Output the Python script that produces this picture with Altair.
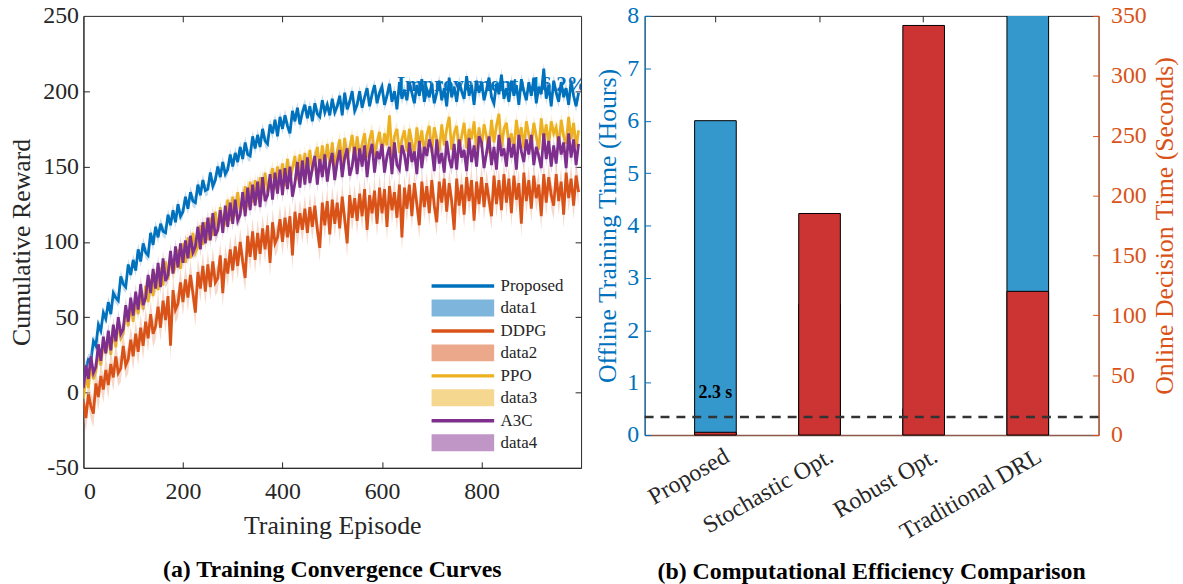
import altair as alt
import pandas as pd

# ---------------- data: panel (a) ----------------
episodes = list(range(0, 1000, 5))

proposed = [
    5, 16, 22, 21, 34, 31, 45, 41, 53, 49,
    60, 52, 66, 63, 61, 77, 72, 70, 85, 78,
    88, 81, 95, 87, 99, 93, 91, 106, 98, 110,
    103, 112, 107, 106, 118, 111, 121, 113, 125, 117,
    120, 130, 122, 133, 127, 126, 138, 131, 141, 134,
    135, 146, 137, 141, 150, 143, 153, 145, 148, 158,
    150, 159, 153, 163, 155, 166, 158, 157, 170, 162,
    171, 163, 175, 167, 165, 178, 172, 181, 170, 183,
    175, 184, 177, 172, 187, 180, 189, 178, 186, 191,
    182, 190, 180, 192, 185, 183, 194, 186, 191, 184,
    195, 186, 190, 197, 184, 199, 188, 193, 200, 187,
    191, 200, 189, 196, 202, 190, 198, 204, 192, 199,
    203, 191, 197, 205, 193, 200, 188, 206, 195, 201,
    194, 206, 199, 192, 204, 197, 208, 193, 201, 196,
    205, 192, 199, 207, 194, 202, 190, 209, 196, 203,
    193, 206, 200, 195, 210, 197, 204, 191, 207, 199,
    206, 194, 201, 209, 196, 192, 205, 198, 211, 195,
    202, 193, 207, 197, 204, 191, 208, 200, 194, 206,
    197, 209, 192, 203, 198, 215, 195, 204, 190, 207,
    199, 193, 206, 196, 202, 191, 207, 197, 190, 199,
]

ddpg = [
    -6, -17, -1, -9, -14, 6, -3, 11, 2, 15,
    5, 19, 10, 24, 13, 16, 31, 18, 22, 35,
    24, 39, 27, 43, 31, 47, 36, 52, 39, 44,
    57, 43, 61, 48, 64, 31, 68, 55, 59, 73,
    60, 75, 63, 78, 66, 53, 80, 69, 84, 67,
    85, 70, 87, 73, 76, 91, 66, 89, 79, 95,
    81, 97, 84, 100, 87, 76, 104, 90, 107, 88,
    106, 92, 109, 95, 111, 86, 113, 99, 103, 115,
    100, 116, 103, 117, 91, 120, 106, 119, 108, 122,
    106, 123, 110, 124, 108, 96, 126, 111, 127, 105,
    128, 112, 126, 109, 130, 115, 99, 131, 116, 129,
    114, 132, 117, 135, 108, 131, 119, 134, 112, 136,
    119, 135, 110, 137, 121, 133, 116, 138, 103, 136,
    122, 138, 117, 139, 125, 111, 140, 123, 137, 119,
    141, 124, 113, 140, 126, 142, 120, 139, 127, 108,
    142, 124, 138, 118, 143, 127, 141, 114, 140, 125,
    143, 123, 139, 128, 117, 144, 125, 141, 121, 145,
    126, 142, 119, 144, 128, 139, 112, 146, 127, 141,
    122, 144, 129, 138, 117, 145, 126, 143, 131, 124,
    145, 127, 140, 118, 146, 129, 142, 124, 144, 133,
]

ppo = [
    -4, 11, 3, 19, 9, 14, 27, 18, 33, 26,
    37, 25, 42, 30, 47, 36, 39, 54, 44, 59,
    47, 61, 52, 66, 55, 71, 60, 75, 64, 79,
    68, 83, 71, 87, 75, 90, 79, 84, 95, 82,
    99, 86, 103, 89, 106, 93, 97, 111, 98, 113,
    101, 116, 104, 120, 107, 123, 110, 112, 128, 114,
    130, 117, 133, 120, 125, 137, 123, 140, 126, 141,
    128, 143, 131, 146, 133, 140, 149, 135, 150, 138,
    152, 137, 155, 140, 149, 157, 141, 158, 144, 159,
    145, 161, 147, 155, 163, 148, 164, 150, 165, 151,
    166, 150, 160, 168, 152, 169, 155, 162, 171, 154,
    170, 155, 165, 172, 156, 168, 174, 157, 166, 173,
    158, 172, 164, 184, 157, 170, 175, 159, 168, 174,
    160, 175, 166, 157, 176, 163, 174, 158, 171, 177,
    159, 176, 168, 160, 178, 164, 175, 183, 161, 172,
    177, 160, 170, 179, 162, 175, 168, 180, 161, 176,
    163, 178, 170, 159, 181, 166, 177, 185, 162, 175,
    179, 164, 172, 160, 181, 168, 176, 162, 180, 171,
    163, 179, 170, 161, 182, 167, 178, 164, 180, 172,
    176, 162, 181, 170, 165, 183, 168, 179, 163, 174,
]

a3c = [
    3, 18, 9, 24, 13, 17, 32, 21, 37, 26,
    41, 28, 45, 34, 50, 39, 42, 58, 47, 63,
    51, 67, 55, 72, 58, 63, 78, 66, 82, 69,
    86, 70, 89, 74, 78, 94, 79, 97, 83, 99,
    86, 101, 89, 104, 93, 97, 110, 95, 113, 99,
    116, 101, 119, 104, 108, 121, 106, 124, 110, 126,
    112, 128, 114, 118, 133, 117, 136, 121, 138, 124,
    140, 123, 143, 127, 131, 145, 128, 146, 132, 148,
    131, 149, 135, 150, 130, 139, 153, 136, 154, 138,
    156, 139, 149, 157, 138, 155, 143, 158, 140, 152,
    159, 141, 153, 161, 143, 156, 162, 144, 150, 163,
    145, 162, 150, 164, 143, 158, 165, 146, 160, 155,
    165, 146, 157, 163, 145, 166, 151, 148, 164, 158,
    147, 166, 153, 160, 145, 167, 149, 163, 157, 168,
    162, 147, 168, 152, 159, 146, 167, 155, 149, 165,
    148, 168, 156, 161, 147, 169, 153, 164, 150, 170,
    166, 149, 159, 170, 151, 163, 148, 171, 157, 162,
    150, 169, 156, 165, 148, 171, 160, 153, 168, 158,
    171, 151, 163, 157, 149, 172, 155, 167, 150, 164,
    152, 170, 158, 166, 149, 172, 156, 168, 151, 165,
]

series_names = ["Proposed", "DDPG", "PPO", "A3C"]
series_values = {"Proposed": proposed, "DDPG": ddpg, "PPO": ppo, "A3C": a3c}
band_half = {"Proposed": 4, "DDPG": 9, "PPO": 5, "A3C": 5}
line_colors = {"Proposed": "#0072BD", "DDPG": "#D95319", "PPO": "#EDB120", "A3C": "#7E2F8E"}
band_colors = {"Proposed": "#7DB5DD", "DDPG": "#ECA88A", "PPO": "#F6D78F", "A3C": "#C096C6"}

legend_names = ["Proposed", "data1", "DDPG", "data2", "PPO", "data3", "A3C", "data4"]
legend_colors = ["#0072BD", "#7DB5DD", "#D95319", "#ECA88A", "#EDB120", "#F6D78F", "#7E2F8E", "#C096C6"]
LINE_SYM = "M-3.15,-0.17H3.15V0.17H-3.15Z"
RECT_SYM = "M-3.15,-0.85H3.15V0.85H-3.15Z"
legend_shapes = [LINE_SYM, RECT_SYM] * 4

annotation_text = "Improvement: 16.2%"
annotation_ep = 630
annotation_value = 204

# ---------------- data: panel (b) ----------------
methods = ["Proposed", "Stochastic Opt.", "Robust Opt.", "Traditional DRL"]
offline_hours = [6.0, 2.5, 0.5, 12.0]
online_seconds = [2.3, 185, 342, 120]
threshold_seconds = 15
online_label = "2.3 s"
online_label_pos = 35

FONT = "Liberation Serif"
DARK = "#262626"
BLUE = "#0072BD"
ORANGE = "#D95319"

# ---------------- panel (a) ----------------
W1, H1 = 501, 455
xs = alt.Scale(domain=[0, 1000], nice=False, zero=False)
ys = alt.Scale(domain=[-50, 250], nice=False, zero=False)

annot_df = pd.DataFrame({"ep": [annotation_ep], "v": [annotation_value], "t": [annotation_text]})
annot = alt.Chart(annot_df).mark_text(
    align="left", baseline="middle", font=FONT, fontSize=21, fontWeight="bold", color=BLUE, clip=True
).encode(
    x=alt.X("ep:Q", scale=xs, axis=alt.Axis(
        title="Training Episode", values=[0, 200, 400, 600, 800], ticks=False, grid=False,
        labelPadding=12, titlePadding=9, domainColor=DARK, labelColor=DARK, titleColor=DARK,
        labelFontSize=24, titleFontSize=26, titleFontWeight="normal")),
    y=alt.Y("v:Q", scale=ys, axis=alt.Axis(
        title="Cumulative Reward", values=[-50, 0, 50, 100, 150, 200, 250], ticks=False, grid=False,
        labelExpr="replace(datum.label, '\u2212', '-')",
        labelPadding=5, titlePadding=8, domainColor=DARK, labelColor=DARK, titleColor=DARK,
        labelFontSize=24, titleFontSize=26, titleFontWeight="normal")),
    text="t:N",
)

layers = [annot]
for s in series_names:
    d = pd.DataFrame({"ep": episodes, "v": series_values[s]})
    d["lo"] = d["v"] - band_half[s]
    d["hi"] = d["v"] + band_half[s]
    band = alt.Chart(d).mark_area(color=band_colors[s], opacity=0.45, clip=True).encode(
        x=alt.X("ep:Q", scale=xs, axis=None),
        y=alt.Y("lo:Q", scale=ys, axis=None),
        y2="hi:Q",
    )
    line = alt.Chart(d).mark_line(color=line_colors[s], strokeWidth=2.8, clip=True).encode(
        x=alt.X("ep:Q", scale=xs, axis=None),
        y=alt.Y("v:Q", scale=ys, axis=None),
    )
    layers += [band, line]

tick_df = pd.DataFrame({"ep": [500], "v": [100]})
tickA = alt.Chart(tick_df).mark_point(opacity=0).encode(
    x=alt.X("ep:Q", scale=xs, axis=alt.Axis(orient="top", offset=-H1, labels=False, domain=False,
                                            tickSize=6, tickColor=DARK, values=[200, 400, 600, 800],
                                            title=None, grid=False)),
    y=alt.Y("v:Q", scale=ys, axis=alt.Axis(orient="right", offset=-W1, labels=False, domain=False,
                                           tickSize=6, tickColor=DARK, values=[0, 50, 100, 150, 200],
                                           title=None, grid=False)),
)
tickB = alt.Chart(tick_df).mark_point(opacity=0).encode(
    x=alt.X("ep:Q", scale=xs, axis=alt.Axis(orient="bottom", offset=-H1, labels=False, domain=False,
                                            tickSize=6, tickColor=DARK, values=[200, 400, 600, 800],
                                            title=None, grid=False)),
    y=alt.Y("v:Q", scale=ys, axis=alt.Axis(orient="left", offset=-W1, labels=False, domain=False,
                                           tickSize=6, tickColor=DARK, values=[0, 50, 100, 150, 200],
                                           title=None, grid=False)),
)

leg_df = pd.DataFrame({"name": legend_names, "ep": [500] * 8, "v": [100] * 8})
leg_props = dict(title=None, orient="none", legendX=372, legendY=262, labelFont=FONT,
                 labelFontSize=17, labelColor=DARK, symbolSize=400, symbolStrokeWidth=0,
                 labelOffset=28, rowPadding=4.1, symbolOpacity=1)
legend_layer = alt.Chart(leg_df).mark_point(filled=True, size=0).encode(
    x=alt.X("ep:Q", scale=xs, axis=None),
    y=alt.Y("v:Q", scale=ys, axis=None),
    color=alt.Color("name:N", scale=alt.Scale(domain=legend_names, range=legend_colors),
                    legend=alt.Legend(**leg_props)),
    shape=alt.Shape("name:N", scale=alt.Scale(domain=legend_names, range=legend_shapes),
                    legend=alt.Legend(**leg_props)),
)
layers += [tickA, tickB, legend_layer]

panel_a = alt.layer(*layers).resolve_axis(x="independent", y="independent").properties(
    width=W1, height=H1,
    title=alt.TitleParams("(a) Training Convergence Curves", orient="bottom", font=FONT,
                          fontSize=24, fontWeight="bold", color="black", offset=20),
)

# ---------------- panel (b) ----------------
W2, H2 = 457, 422
bar_df = pd.DataFrame({"method": methods, "hours": offline_hours, "seconds": online_seconds})
xb = alt.Scale(domain=methods, paddingInner=0.6, paddingOuter=0.48)
hs = alt.Scale(domain=[0, 8], nice=False, zero=True)
ss = alt.Scale(domain=[0, 350], nice=False, zero=True)

x_main = alt.X("method:N", sort=methods, scale=xb, axis=alt.Axis(
    title=None, labelAngle=330, labelAlign="right", labelBaseline="top", ticks=False,
    labelPadding=9, labelOffset=6, labelFontSize=24, labelColor=DARK,
    domainColor="#8C5A4B", domainWidth=1.5))
x_none = alt.X("method:N", sort=methods, scale=xb, axis=None)

blue_bars = alt.Chart(bar_df).mark_bar(color="#3498CC", stroke="black", strokeWidth=1, clip=True).encode(
    x=x_main,
    y=alt.Y("hours:Q", scale=hs, axis=alt.Axis(
        orient="left", title="Offline Training Time (Hours)", values=list(range(0, 9)),
        ticks=False, grid=False, labelColor=BLUE, titleColor=BLUE, domainColor=BLUE,
        labelFontSize=24, titleFontSize=26, titleFontWeight="normal", labelPadding=6, titlePadding=6)),
)
red_bars = alt.Chart(bar_df).mark_bar(color="#CC3333", stroke="black", strokeWidth=1).encode(
    x=x_none,
    y=alt.Y("seconds:Q", scale=ss, axis=alt.Axis(
        orient="right", title="Online Decision Time (Seconds)", values=list(range(0, 351, 50)),
        ticks=False, grid=False, labelColor=ORANGE, titleColor=ORANGE, domainColor=ORANGE,
        labelFontSize=24, titleFontSize=26, titleFontWeight="normal", titleAngle=270,
        titleBaseline="top", labelPadding=12, titlePadding=5)),
)
thr_df = pd.DataFrame({"s": [threshold_seconds]})
thr = alt.Chart(thr_df).mark_rule(color="#333333", strokeDash=[9, 7], strokeWidth=2.5).encode(
    y=alt.Y("s:Q", scale=ss, axis=None),
)
lab_df = pd.DataFrame({"method": [methods[0]], "s": [online_label_pos], "t": [online_label]})
lab = alt.Chart(lab_df).mark_text(font=FONT, fontSize=18, fontWeight="bold", color="black",
                                  baseline="middle").encode(
    x=x_none, y=alt.Y("s:Q", scale=ss, axis=None), text="t:N",
)
tick2_df = pd.DataFrame({"method": [methods[0]], "hours": [1], "seconds": [10]})
tick_top = alt.Chart(tick2_df).mark_point(opacity=0).encode(
    x=alt.X("method:N", sort=methods, scale=xb, axis=alt.Axis(
        orient="bottom", offset=-H2, labels=False, domain=False, tickSize=6, tickColor=DARK,
        title=None)),
    y=alt.Y("hours:Q", scale=hs, axis=alt.Axis(
        orient="right", offset=-W2, labels=False, domain=False, tickSize=6, tickColor=BLUE,
        values=list(range(0, 9)), title=None, grid=False)),
)
tick_right = alt.Chart(tick2_df).mark_point(opacity=0).encode(
    x=x_none,
    y=alt.Y("seconds:Q", scale=ss, axis=alt.Axis(
        orient="left", offset=-W2, labels=False, domain=False, tickSize=6, tickColor=ORANGE,
        values=list(range(0, 351, 50)), title=None, grid=False)),
)

panel_b = alt.layer(blue_bars, red_bars, thr, lab, tick_top, tick_right).resolve_scale(
    y="independent").resolve_axis(x="independent", y="independent").properties(
    width=W2, height=H2,
    title=alt.TitleParams("(b) Computational Efficiency Comparison", orient="bottom", font=FONT,
                          fontSize=24, fontWeight="bold", color="black", offset=16),
)

chart = alt.hconcat(panel_a, panel_b, spacing=12).configure(
    font=FONT, padding={"left": 8, "top": 1, "right": 5, "bottom": 2}
).configure_axis(
    labelFont=FONT, titleFont=FONT, grid=False,
).configure_view(stroke=DARK, strokeWidth=1)

chart.save("out.html", embed_options={"renderer": "svg", "actions": False})
